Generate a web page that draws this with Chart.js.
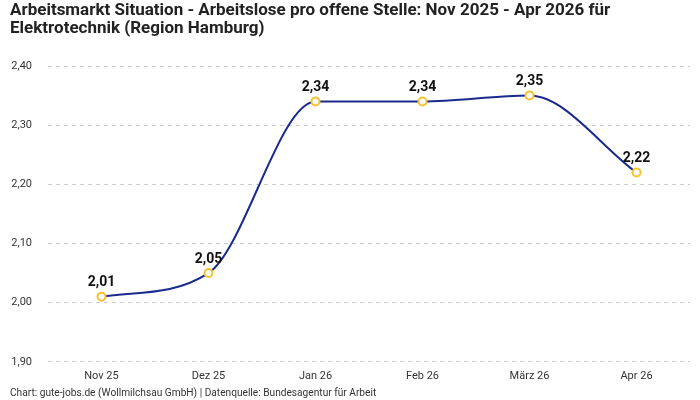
<!DOCTYPE html>
<html><head><meta charset="utf-8">
<script src="https://cdn.jsdelivr.net/npm/chart.js@4"></script>
<style>html,body{margin:0;padding:0;background:#fff}#wrap{width:700px;height:400px}</style>
</head><body><div id="wrap"><canvas id="c" width="700" height="400"></canvas></div>
<script>
const categories = ["Nov 25", "Dez 25", "Jan 26", "Feb 26", "März 26", "Apr 26"];
const values = [2.01, 2.05, 2.34, 2.34, 2.35, 2.22];
const yTicks = [1.90, 2.00, 2.10, 2.20, 2.30, 2.40];
const titleLines = ["Arbeitsmarkt Situation - Arbeitslose pro offene Stelle: Nov 2025 - Apr 2026 für", "Elektrotechnik (Region Hamburg)"];
const footerText = "Chart: gute-jobs.de (Wollmilchsau GmbH) | Datenquelle: Bundesagentur für Arbeit";

const fmt = v => v.toFixed(2).replace('.', ',');
const FONT = "Roboto, 'Noto Sans', sans-serif";

const textPlugin = {
  id: 'texts',
  afterDraw(chart) {
    const ctx = chart.ctx;
    ctx.save();
    let size = 16;
    ctx.font = `bold ${size}px ${FONT}`;
    const w = ctx.measureText(titleLines[0]).width;
    size = Math.min(17, size * 656 / w);
    ctx.font = `bold ${size}px ${FONT}`;
    ctx.fillStyle = '#222';
    ctx.textAlign = 'left';
    ctx.textBaseline = 'middle';
    ctx.fillText(titleLines[0], 10, 11);
    ctx.fillText(titleLines[1], 10, 29);
    let fs = 10;
    ctx.font = `${fs}px ${FONT}`;
    const fw = ctx.measureText(footerText).width;
    fs = fs * 367 / fw;
    ctx.font = `${fs}px ${FONT}`;
    ctx.fillStyle = '#333';
    ctx.fillText(footerText, 10, 393);
    const meta = chart.getDatasetMeta(0);
    ctx.font = `bold 14px ${FONT}`;
    ctx.fillStyle = '#111';
    ctx.textAlign = 'center';
    ctx.textBaseline = 'bottom';
    meta.data.forEach((pt, i) => {
      ctx.fillText(fmt(values[i]), pt.x, pt.y - 7);
    });
    ctx.restore();
  }
};

new Chart(document.getElementById('c'), {
  type: 'line',
  data: {
    labels: categories,
    datasets: [{
      data: values,
      borderColor: '#1b2a8e',
      borderWidth: 2,
      cubicInterpolationMode: 'monotone',
      pointRadius: 4,
      pointHoverRadius: 4,
      pointBorderWidth: 2,
      pointBorderColor: '#f7c12f',
      pointBackgroundColor: '#ffffff',
      fill: false
    }]
  },
  options: {
    responsive: false,
    animation: false,
    layout: { padding: { top: 66, bottom: 9, left: 10, right: 10 } },
    plugins: { legend: { display: false }, tooltip: { enabled: false } },
    scales: {
      x: {
        offset: true,
        grid: { display: false, drawTicks: false },
        border: { display: false },
        ticks: { color: '#333', font: { family: FONT, size: 11 }, padding: 8 }
      },
      y: {
        min: 1.9, max: 2.4,
        afterFit(scale) { scale.width = 38; },
        afterBuildTicks(scale) { scale.ticks = yTicks.map(v => ({ value: v })); },
        grid: { color: '#cccccc', drawTicks: false, tickLength: 0 },
        border: { display: false, dash: [4, 4] },
        ticks: { color: '#333', font: { family: FONT, size: 11 }, padding: 16, callback: v => fmt(v) }
      }
    }
  },
  plugins: [textPlugin]
});
</script>
</body></html>
